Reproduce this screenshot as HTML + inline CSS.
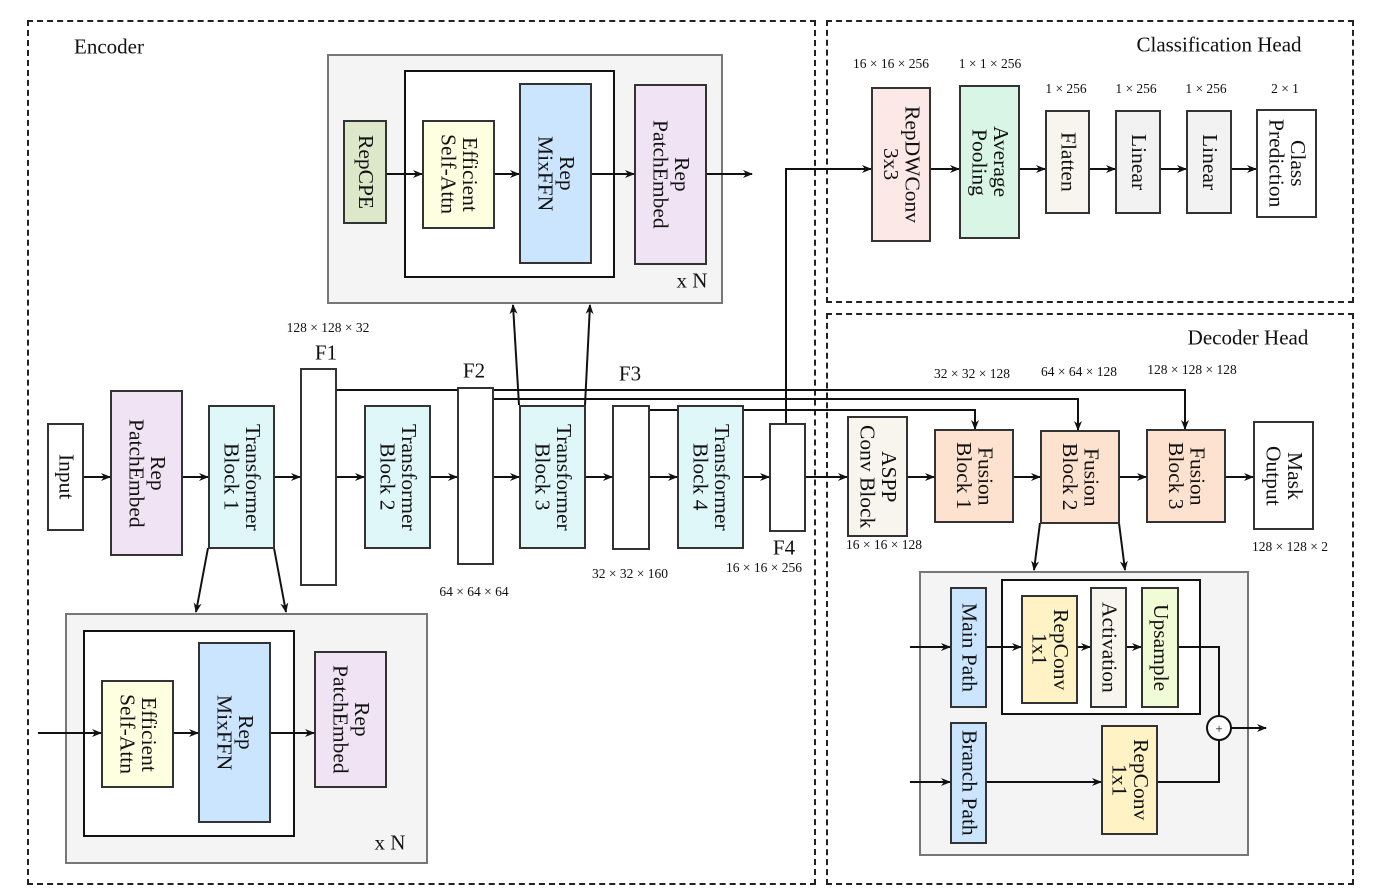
<!DOCTYPE html>
<html><head><meta charset="utf-8"><style>
body{margin:0;width:1374px;height:895px;background:#fff;position:relative;overflow:hidden;font-family:"Liberation Serif",serif;color:#111}
.b{position:absolute;box-sizing:border-box;border:2px solid #333;display:flex;align-items:center;justify-content:center;writing-mode:vertical-rl;text-align:center;font-size:21.5px;line-height:1.0}
.g{position:absolute;box-sizing:border-box;border:2px solid #777;background:#f4f4f4}
.w{position:absolute;box-sizing:border-box;border:2px solid #111;background:#fff}
.d{position:absolute;box-sizing:border-box;border:2px dashed #222}
.t{position:absolute;white-space:nowrap;transform:translate(-50%,-50%)}
.s{font-size:13.5px}
.l{font-size:21px}
svg{position:absolute;left:0;top:0}
</style></head><body>
<div class="d" style="left:27px;top:20px;width:789px;height:865px"></div>
<div class="d" style="left:826px;top:20px;width:528px;height:283px"></div>
<div class="d" style="left:826px;top:313px;width:528px;height:572px"></div>

<div class="g" style="left:327px;top:54px;width:396px;height:250px"></div>
<div class="w" style="left:404px;top:70px;width:211px;height:208px"></div>
<div class="g" style="left:65px;top:613px;width:363px;height:251px"></div>
<div class="w" style="left:83px;top:630px;width:212px;height:207px"></div>
<div class="g" style="left:919px;top:571px;width:330px;height:285px"></div>
<div class="w" style="left:1001px;top:579px;width:200px;height:136px"></div>

<svg width="1374" height="895">
<defs><marker id="a" markerWidth="10" markerHeight="8" refX="9" refY="4" orient="auto" markerUnits="userSpaceOnUse"><path d="M0,0 L10,4 L0,8 L3,4z" fill="#111"/></marker></defs>
<g stroke="#111" stroke-width="2" fill="none" marker-end="url(#a)">
<line x1="386" y1="174" x2="422" y2="174"/><line x1="494" y1="174" x2="519" y2="174"/><line x1="591" y1="174" x2="634" y2="174"/><line x1="706" y1="174" x2="752" y2="174"/>
<line x1="83" y1="477" x2="110" y2="477"/><line x1="182" y1="477" x2="208" y2="477"/><line x1="274" y1="477" x2="300" y2="477"/><line x1="336" y1="477" x2="364" y2="477"/><line x1="430" y1="477" x2="457" y2="477"/><line x1="493" y1="477" x2="519" y2="477"/><line x1="585" y1="477" x2="612" y2="477"/><line x1="649" y1="477" x2="677" y2="477"/><line x1="743" y1="477" x2="769" y2="477"/><line x1="805" y1="477" x2="847" y2="477"/>
<line x1="907" y1="477" x2="934" y2="477"/><line x1="1013" y1="477" x2="1040" y2="477"/><line x1="1119" y1="477" x2="1146" y2="477"/><line x1="1225" y1="477" x2="1253" y2="477"/>
<polyline points="336,390 1185,390 1185,429"/><polyline points="493,399 1078,399 1078,430"/><polyline points="649,410 975,410 975,429"/>
<polyline points="786,423 786,169 871,169"/>
<line x1="519" y1="405" x2="513" y2="305"/><line x1="585" y1="405" x2="590" y2="305"/>
<line x1="208" y1="548" x2="196" y2="612"/><line x1="274" y1="548" x2="286" y2="612"/>
<line x1="38" y1="733" x2="101" y2="733"/><line x1="173" y1="733" x2="198" y2="733"/><line x1="270" y1="733" x2="314" y2="733"/>
<line x1="930" y1="169" x2="959" y2="169"/><line x1="1019" y1="169" x2="1045" y2="169"/><line x1="1089" y1="169" x2="1115" y2="169"/><line x1="1160" y1="169" x2="1186" y2="169"/><line x1="1231" y1="169" x2="1256" y2="169"/>
<line x1="1040" y1="523" x2="1034" y2="570"/><line x1="1119" y1="523" x2="1125" y2="570"/>
<line x1="910" y1="647" x2="950" y2="647"/><line x1="986" y1="647" x2="1021" y2="647"/><line x1="1077" y1="647" x2="1090" y2="647"/><line x1="1126" y1="647" x2="1141" y2="647"/>
<line x1="910" y1="782" x2="950" y2="782"/><line x1="986" y1="782" x2="1101" y2="782"/>
<line x1="1231" y1="728" x2="1266" y2="728"/>
</g>
<g stroke="#111" stroke-width="2" fill="none">
<polyline points="1178,647 1219,647 1219,716"/><polyline points="1157,782 1219,782 1219,740"/>
<circle cx="1219" cy="728" r="12" fill="#fff"/>
</g>
<text x="1219" y="733" font-size="13" text-anchor="middle" font-family="Liberation Serif">+</text>
</svg>

<div class="b" style="left:343px;top:120px;width:44px;height:104px;background:#dde8cb">RepCPE</div>
<div class="b" style="left:422px;top:120px;width:73px;height:109px;background:#fefee0">Efficient<br>Self-Attn</div>
<div class="b" style="left:519px;top:83px;width:73px;height:181px;background:#cce5ff">Rep<br>MixFFN</div>
<div class="b" style="left:634px;top:84px;width:73px;height:181px;background:#f0e4f4">Rep<br>PatchEmbed</div>

<div class="b" style="left:101px;top:680px;width:73px;height:108px;background:#fefee0">Efficient<br>Self-Attn</div>
<div class="b" style="left:198px;top:642px;width:73px;height:181px;background:#cce5ff">Rep<br>MixFFN</div>
<div class="b" style="left:314px;top:651px;width:73px;height:137px;background:#f0e4f4">Rep<br>PatchEmbed</div>

<div class="b" style="left:47px;top:423px;width:37px;height:108px;background:#fff">Input</div>
<div class="b" style="left:110px;top:390px;width:73px;height:166px;background:#f0e4f4">Rep<br>PatchEmbed</div>
<div class="b" style="left:208px;top:405px;width:67px;height:144px;background:#e0f7fa">Transformer<br>Block 1</div>
<div class="b" style="left:300px;top:368px;width:37px;height:218px;background:#fff"></div>
<div class="b" style="left:364px;top:405px;width:67px;height:144px;background:#e0f7fa">Transformer<br>Block 2</div>
<div class="b" style="left:457px;top:387px;width:37px;height:178px;background:#fff"></div>
<div class="b" style="left:519px;top:405px;width:67px;height:144px;background:#e0f7fa">Transformer<br>Block 3</div>
<div class="b" style="left:612px;top:405px;width:38px;height:145px;background:#fff"></div>
<div class="b" style="left:677px;top:405px;width:67px;height:144px;background:#e0f7fa">Transformer<br>Block 4</div>
<div class="b" style="left:769px;top:423px;width:37px;height:109px;background:#fff"></div>

<div class="b" style="left:871px;top:87px;width:60px;height:155px;background:#fde8e8">RepDWConv<br>3x3</div>
<div class="b" style="left:959px;top:85px;width:61px;height:154px;background:#d9f5e6">Average<br>Pooling</div>
<div class="b" style="left:1045px;top:110px;width:45px;height:104px;background:#f7f5ee">Flatten</div>
<div class="b" style="left:1115px;top:110px;width:46px;height:104px;background:#f2f2f2">Linear</div>
<div class="b" style="left:1186px;top:110px;width:46px;height:104px;background:#f2f2f2">Linear</div>
<div class="b" style="left:1256px;top:109px;width:61px;height:109px;background:#fff">Class<br>Prediction</div>

<div class="b" style="left:847px;top:416px;width:61px;height:121px;background:#f7f5ee">ASPP<br>Conv Block</div>
<div class="b" style="left:934px;top:429px;width:80px;height:94px;background:#fde3cf">Fusion<br>Block 1</div>
<div class="b" style="left:1040px;top:430px;width:80px;height:94px;background:#fde3cf">Fusion<br>Block 2</div>
<div class="b" style="left:1146px;top:429px;width:80px;height:94px;background:#fde3cf">Fusion<br>Block 3</div>
<div class="b" style="left:1253px;top:421px;width:61px;height:109px;background:#fff">Mask<br>Output</div>

<div class="b" style="left:950px;top:587px;width:37px;height:121px;background:#cce5ff">Main Path</div>
<div class="b" style="left:1021px;top:595px;width:57px;height:109px;background:#fff2c4">RepConv<br>1x1</div>
<div class="b" style="left:1090px;top:587px;width:37px;height:121px;background:#f7f5ee">Activation</div>
<div class="b" style="left:1141px;top:587px;width:38px;height:121px;background:#f0fcd6">Upsample</div>
<div class="b" style="left:950px;top:722px;width:37px;height:122px;background:#cce5ff">Branch Path</div>
<div class="b" style="left:1101px;top:725px;width:57px;height:110px;background:#fff2c4">RepConv<br>1x1</div>

<div class="t l" style="left:109px;top:47px">Encoder</div>
<div class="t l" style="left:1219px;top:45px">Classification Head</div>
<div class="t l" style="left:1248px;top:338px">Decoder Head</div>
<div class="t l" style="left:692px;top:281px">x N</div>
<div class="t l" style="left:390px;top:843px">x N</div>
<div class="t l" style="left:326px;top:353px">F1</div>
<div class="t l" style="left:474px;top:371px">F2</div>
<div class="t l" style="left:630px;top:374px">F3</div>
<div class="t l" style="left:784px;top:548px">F4</div>
<div class="t s" style="left:328px;top:328px">128 × 128 × 32</div>
<div class="t s" style="left:474px;top:592px">64 × 64 × 64</div>
<div class="t s" style="left:630px;top:574px">32 × 32 × 160</div>
<div class="t s" style="left:764px;top:568px">16 × 16 × 256</div>
<div class="t s" style="left:891px;top:64px">16 × 16 × 256</div>
<div class="t s" style="left:990px;top:64px">1 × 1 × 256</div>
<div class="t s" style="left:1066px;top:89px">1 × 256</div>
<div class="t s" style="left:1136px;top:89px">1 × 256</div>
<div class="t s" style="left:1206px;top:89px">1 × 256</div>
<div class="t s" style="left:1285px;top:89px">2 × 1</div>
<div class="t s" style="left:972px;top:374px">32 × 32 × 128</div>
<div class="t s" style="left:1079px;top:372px">64 × 64 × 128</div>
<div class="t s" style="left:1192px;top:370px">128 × 128 × 128</div>
<div class="t s" style="left:884px;top:545px">16 × 16 × 128</div>
<div class="t s" style="left:1290px;top:547px">128 × 128 × 2</div>
</body></html>
